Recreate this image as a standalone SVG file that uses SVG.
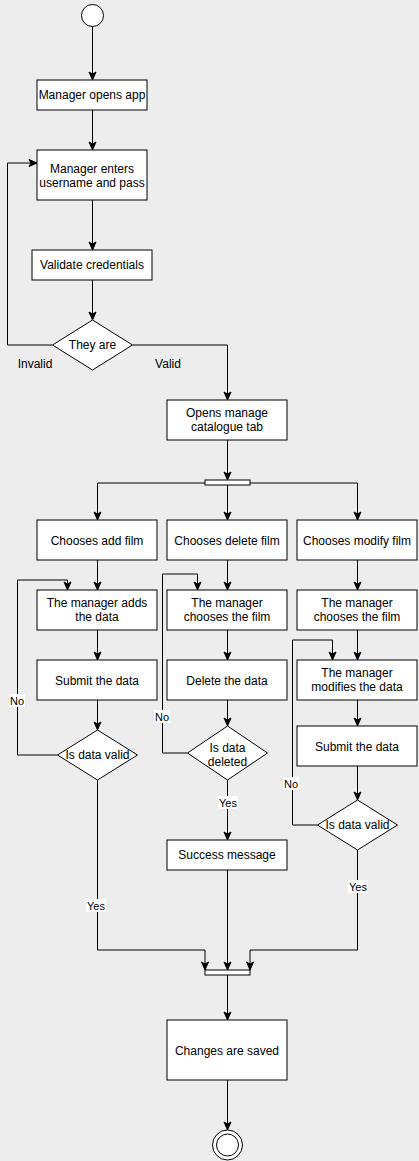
<svg xmlns="http://www.w3.org/2000/svg" width="419" height="1161" viewBox="0 0 419 1161">
<style>
.bg{fill:#ededed}
.n{fill:#ffffff;stroke:#000000;stroke-width:1}
.bar{fill:#ffffff;stroke:#000000;stroke-width:1}
.t{font-family:"Liberation Sans",Arial,sans-serif;font-size:12px;fill:#000000;text-anchor:middle}
.lb{font-family:"Liberation Sans",Arial,sans-serif;font-size:11px;fill:#000000;text-anchor:middle}
.lbg{fill:#ffffff;stroke:none}
.e{fill:none;stroke:#000000;stroke-width:1}
.ea{fill:none;stroke:#000000;stroke-width:1;marker-end:url(#arr)}
</style>
<defs>
<marker id="arr" markerWidth="10" markerHeight="10" viewBox="0 0 10 10" refX="9" refY="5" orient="auto" markerUnits="userSpaceOnUse">
<path d="M1,1.5 L9,5 L1,8.5 L3,5 Z" fill="#000000" stroke="#000000" stroke-width="1"/>
</marker>
</defs>
<rect class="bg" x="0" y="0" width="419" height="1161"/>
<g id="connectors">
<path class="ea" d="M92.5,26.5 V80"/>
<path class="ea" d="M92.5,110 V150"/>
<path class="ea" d="M92.5,200 V250"/>
<path class="ea" d="M92.5,280 V320"/>
<path class="ea" d="M52.5,345 H7.5 V163 H37"/>
<path class="ea" d="M132.5,345 H227.5 V400"/>
<path class="ea" d="M227.5,440 V480"/>
<path class="ea" d="M205,483 H97.5 V520"/>
<path class="ea" d="M227.5,485 V520"/>
<path class="ea" d="M250,483 H357.5 V520"/>
<path class="ea" d="M97.5,560 V590"/>
<path class="ea" d="M227.5,560 V590"/>
<path class="ea" d="M357.5,560 V590"/>
<path class="ea" d="M97.5,630 V660"/>
<path class="ea" d="M227.5,630 V660"/>
<path class="ea" d="M357.5,630 V660"/>
<path class="ea" d="M97.5,700 V730"/>
<path class="ea" d="M227.5,700 V726"/>
<path class="ea" d="M357.5,700 V726"/>
<path class="ea" d="M357.5,766 V800"/>
<path class="ea" d="M57.5,755 H17.5 V580 H67.5 V590"/>
<path class="ea" d="M187.5,753 H162.5 V574 H197.5 V590"/>
<path class="ea" d="M317.5,825 H292.5 V640 H332.5 V660"/>
<path class="ea" d="M227.5,780 V840"/>
<path class="ea" d="M97.5,780 V950 H205 V970"/>
<path class="ea" d="M227.5,870 V970"/>
<path class="ea" d="M357.5,850 V950 H250 V970"/>
<path class="ea" d="M227.5,975 V1020"/>
<path class="ea" d="M227.5,1080 V1130"/>
<rect class="lbg" x="9" y="694" width="16" height="13"/>
<text class="lb" x="17" y="705">No</text>
<rect class="lbg" x="154" y="710" width="16" height="13"/>
<text class="lb" x="162" y="721">No</text>
<rect class="lbg" x="283" y="777" width="16" height="13"/>
<text class="lb" x="291" y="788">No</text>
<rect class="lbg" x="218" y="796" width="20" height="13"/>
<text class="lb" x="228" y="807">Yes</text>
<rect class="lbg" x="86" y="899" width="20" height="13"/>
<text class="lb" x="96" y="910">Yes</text>
<rect class="lbg" x="348" y="880" width="20" height="13"/>
<text class="lb" x="358" y="891">Yes</text>
</g>
<g id="start"><circle class="n" cx="92.5" cy="15.5" r="11"/></g>
<g id="opensApp"><rect class="n" x="37" y="80" width="110" height="30"/><text class="t" x="92" y="99">Manager opens app</text></g>
<g id="entersCreds"><rect class="n" x="37" y="150" width="110" height="50"/><text class="t" x="92" y="173">Manager enters</text><text class="t" x="92" y="187">username and pass</text></g>
<g id="validate"><rect class="n" x="32" y="250" width="120" height="30"/><text class="t" x="92" y="269">Validate credentials</text></g>
<g id="theyAre"><polygon class="n" points="92.5,320 132.5,345 92.5,370 52.5,345"/><text class="t" x="92.5" y="349">They are</text></g>
<g id="invalidLabel"><text class="t" x="35" y="368">Invalid</text></g>
<g id="validLabel"><text class="t" x="168" y="368">Valid</text></g>
<g id="catalogue"><rect class="n" x="167" y="400" width="120" height="40"/><text class="t" x="227" y="417">Opens manage</text><text class="t" x="227" y="431">catalogue tab</text></g>
<g id="fork"><rect class="bar" x="205" y="480" width="45" height="5"/></g>
<g id="addFilm"><rect class="n" x="37" y="520" width="120" height="40"/><text class="t" x="97" y="545">Chooses add film</text></g>
<g id="deleteFilm"><rect class="n" x="167" y="520" width="120" height="40"/><text class="t" x="227" y="545">Chooses delete film</text></g>
<g id="modifyFilm"><rect class="n" x="297" y="520" width="120" height="40"/><text class="t" x="357" y="545">Chooses modify film</text></g>
<g id="addsData"><rect class="n" x="37" y="590" width="120" height="40"/><text class="t" x="97" y="607">The manager adds</text><text class="t" x="97" y="621">the data</text></g>
<g id="choosesDel"><rect class="n" x="167" y="590" width="120" height="40"/><text class="t" x="227" y="607">The manager</text><text class="t" x="227" y="621">chooses the film</text></g>
<g id="choosesMod"><rect class="n" x="297" y="590" width="120" height="40"/><text class="t" x="357" y="607">The manager</text><text class="t" x="357" y="621">chooses the film</text></g>
<g id="submitAdd"><rect class="n" x="37" y="660" width="120" height="40"/><text class="t" x="97" y="685">Submit the data</text></g>
<g id="deleteData"><rect class="n" x="167" y="660" width="120" height="40"/><text class="t" x="227" y="685">Delete the data</text></g>
<g id="modifiesData"><rect class="n" x="297" y="660" width="120" height="40"/><text class="t" x="357" y="677">The manager</text><text class="t" x="357" y="691">modifies the data</text></g>
<g id="submitMod"><rect class="n" x="297" y="726" width="120" height="40"/><text class="t" x="357" y="751">Submit the data</text></g>
<g id="validAdd"><polygon class="n" points="97.5,730 137.5,755 97.5,780 57.5,755"/><text class="t" x="97.5" y="759">Is data valid</text></g>
<g id="deleted"><polygon class="n" points="227.5,726 267.5,753 227.5,780 187.5,753"/><text class="t" x="227.5" y="752">Is data</text><text class="t" x="227.5" y="766">deleted</text></g>
<g id="validMod"><polygon class="n" points="357.5,800 397.5,825 357.5,850 317.5,825"/><text class="t" x="357.5" y="829">Is data valid</text></g>
<g id="success"><rect class="n" x="167" y="840" width="120" height="30"/><text class="t" x="227" y="859">Success message</text></g>
<g id="join"><rect class="bar" x="205" y="970" width="45" height="5"/></g>
<g id="saved"><rect class="n" x="167" y="1020" width="120" height="60"/><text class="t" x="227" y="1055">Changes are saved</text></g>
<g id="end"><circle class="n" cx="227.5" cy="1145" r="15"/><circle class="n" cx="227.5" cy="1145" r="11"/></g>
</svg>
